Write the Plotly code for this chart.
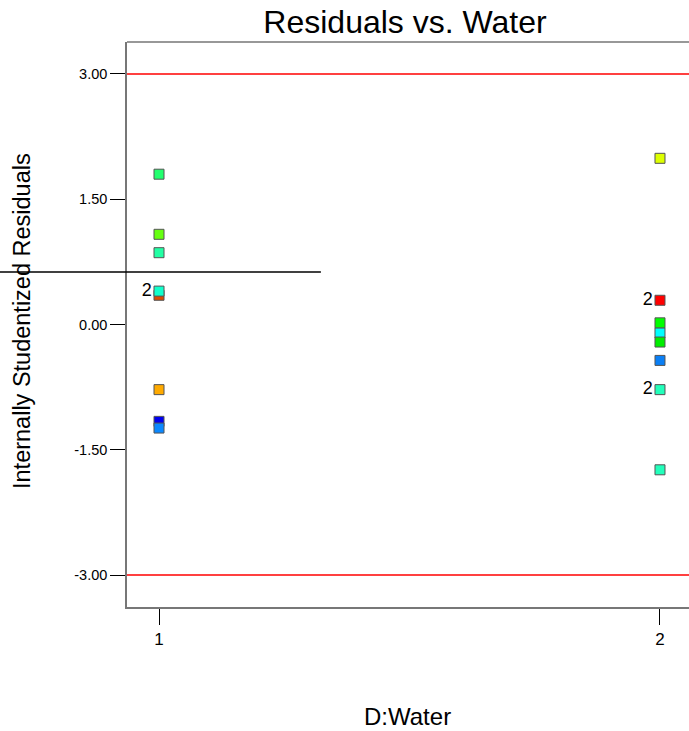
import plotly.graph_objects as go

# Data
water_level = [1, 1, 1, 1, 1, 1, 1, 1,
               2, 2, 2, 2, 2, 2, 2, 2]
residuals = [1.80, 1.08, 0.86, 0.35, 0.40, -0.78, -1.16, -1.24,
             1.99, 0.29, -0.10, 0.02, -0.21, -0.43, -0.78, -1.74]
point_colors = ["#22ff6e", "#66ff11", "#22ffa4", "#dd4a00", "#11ffcc", "#ffaa00", "#0000ee", "#0a88ff",
                "#ddff00", "#ff0000", "#00ffff", "#00ff00", "#00ee00", "#0a7ff5", "#22ffbb", "#22ffbb"]
point_labels = ["", "", "", "", "2", "", "", "",
                "", "2", "", "", "", "", "2", ""]
limit_lines = [3.0, -3.0]
y_ticks = [-3.0, -1.5, 0.0, 1.5, 3.0]
y_tick_text = ["-3.00", "-1.50", "0.00", "1.50", "3.00"]
x_ticks = [1, 2]

FONT = "Liberation Sans, Arial"

fig = go.Figure()
fig.add_trace(go.Scatter(
    x=water_level, y=residuals, mode="markers+text",
    text=point_labels, textposition="middle left",
    textfont=dict(family=FONT, size=18, color="black"),
    marker=dict(symbol="square", size=10, color=point_colors,
                line=dict(color="#555555", width=1)),
    cliponaxis=False, showlegend=False,
))

shapes = []
for v in limit_lines:
    shapes.append(dict(type="line", xref="paper", x0=0, x1=1, yref="y", y0=v, y1=v,
                       line=dict(color="red", width=1.5)))
# top frame line
shapes.append(dict(type="line", xref="paper", x0=0, x1=1, yref="paper", y0=1, y1=1,
                   line=dict(color="#333333", width=1.2)))
# stray black line across the y-axis title
shapes.append(dict(type="line", xref="paper", x0=-0.226, x1=0.345, yref="y", y0=0.63, y1=0.63,
                   line=dict(color="black", width=1.5)))

annotations = [
    dict(text="D:Water", xref="paper", yref="paper", x=(407 - 127) / 562, y=-(716 - 607) / 565,
         xanchor="center", yanchor="middle", showarrow=False,
         font=dict(family=FONT, size=24, color="black")),
    dict(text="Internally Studentized Residuals", xref="paper", yref="paper",
         x=(22 - 127) / 562, y=(607 - 321) / 565, textangle=-90,
         xanchor="center", yanchor="middle", showarrow=False,
         font=dict(family=FONT, size=23.5, color="black")),
]

fig.update_layout(
    width=689, height=731,
    margin=dict(l=127, r=0, t=42, b=124),
    paper_bgcolor="white", plot_bgcolor="white",
    font=dict(family=FONT, color="black"),
    title=dict(text="Residuals vs. Water", x=405 / 689, xanchor="center",
               y=1 - 22 / 731, yanchor="middle",
               font=dict(size=32, family=FONT, color="black")),
    shapes=shapes,
    annotations=annotations,
    xaxis=dict(range=[0.9361, 2.0579], tickvals=x_ticks, ticktext=[str(t) for t in x_ticks],
               showgrid=False, zeroline=False, showline=True, linecolor="#777777", linewidth=1.5,
               ticks="outside", ticklen=16, tickcolor="black", tickwidth=1,
               tickfont=dict(size=17)),
    yaxis=dict(range=[-3.383, 3.383], tickvals=y_ticks, ticktext=y_tick_text,
               showgrid=False, zeroline=False, showline=True, linecolor="#777777", linewidth=1.5,
               ticks="outside", ticklen=15, tickcolor="black", tickwidth=1,
               tickfont=dict(size=14.5)),
)

fig.write_html("out.html", config={"displayModeBar": False},
               post_script="document.body.style.margin='0';document.body.style.overflow='hidden';")
